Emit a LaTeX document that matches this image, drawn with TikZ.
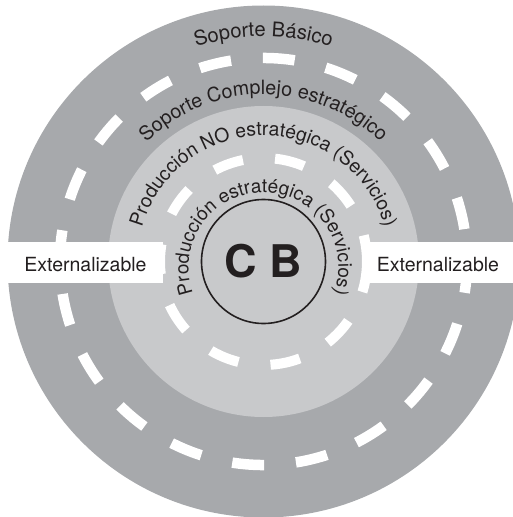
\documentclass[tikz,border=0pt]{standalone}
\usepackage{fontspec}
\setmainfont{TeX Gyre Heros}
\usetikzlibrary{decorations.text}
\definecolor{ringdark}{HTML}{A7A9AC}
\definecolor{ringlight}{HTML}{C8C9CB}
\definecolor{ink}{HTML}{231F20}
\newcommand\bigarcfont{\color{ink}\fontsize{20.2}{21}\selectfont}
\newcommand\curvefont{\color{ink}\fontsize{19.7}{20}\selectfont}
\newcommand\midfont{\color{ink}\fontsize{19.3}{20}\selectfont}
\newcommand\innerfont{\color{ink}\fontsize{19}{20}\selectfont}
\begin{document}
\begin{tikzpicture}[x=1pt,y=1pt,
  arctext/.style={decorate, decoration={text along path, text align=center}},
  dashring/.style={white, line width=#1},
  band/.style={fill=white, inner sep=0pt, minimum height=41pt},
  exttext/.style={text=ink, font=\fontsize{19.5}{20}\selectfont, inner sep=0pt, anchor=base}]
\useasboundingbox (-263.5,-255.5) rectangle (249.5,261.5);
% rings
\fill[ringdark] (0,0) circle[radius=256];
\draw[dashring=10.5pt, dash pattern=on 32pt off 31.93pt] (9.2:203.5) arc[start angle=9.2, delta angle=360, radius=203.5];
\fill[ringlight] (0,0) circle[radius=155.5];
\draw[dashring=10pt, dash pattern=on 30pt off 32.3pt] (-2:103.5) arc[start angle=-2, delta angle=360, radius=103.5];
% centre
\node[circle, draw=ink, line width=1.6pt, minimum size=124pt, inner sep=0pt,
      text=ink, font=\fontsize{45}{45}\selectfont\bfseries] (cb) at (0,0) {C B};
% bands
\node[band, minimum width=180pt, anchor=east] (lband) at (-100.5,-1) {};
\node[band, minimum width=160pt, anchor=west] (rband) at (106.5,-1) {};
\node[exttext] (lext) at (-178,-9.5) {Externalizable};
\node[exttext] (rext) at (174.5,-9.5) {Externalizable};
% curved labels
\path[arctext, decoration={text={|\bigarcfont|Soporte Básico}}]
  (170:225) arc[start angle=170, end angle=10, radius=225];
\path[arctext, decoration={text={|\curvefont|Soporte Complejo estratégico}}]
  (165:167) arc[start angle=165, end angle=15, radius=167];
\path[arctext, decoration={text={|\midfont|Producción NO estratégica (Servicios)}}]
  (178:126) arc[start angle=178, end angle=2, radius=126];
\path[arctext, decoration={text={|\innerfont|Producción estratégica (Servicios)}}]
  (0,-6) ++(215:75) arc[start angle=215, end angle=-35, radius=75];
\end{tikzpicture}
\end{document}
